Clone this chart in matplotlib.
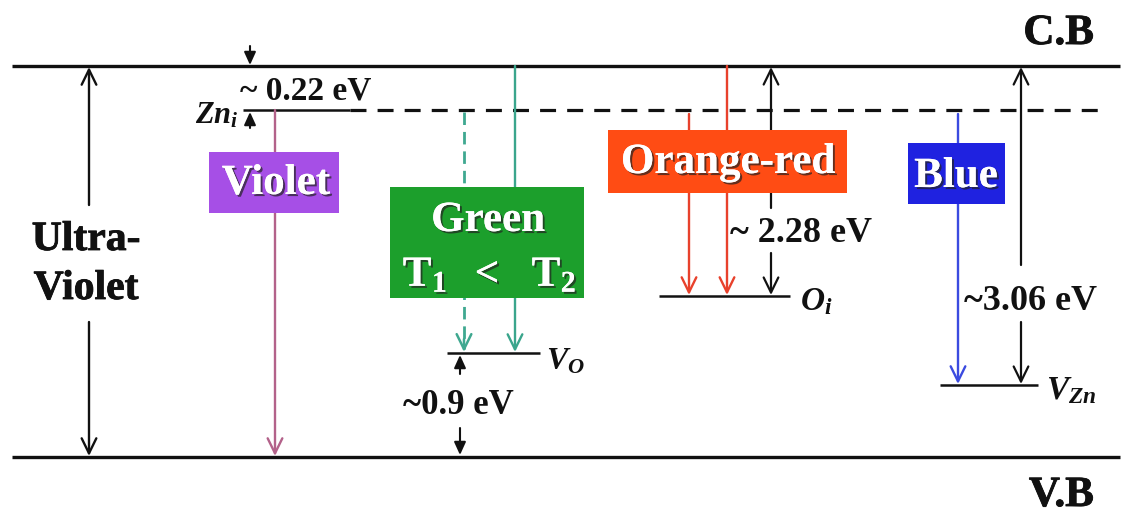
import matplotlib
matplotlib.use("Agg")
import matplotlib.pyplot as plt
import matplotlib.patheffects as pe
from matplotlib.patches import Rectangle

plt.rcParams['font.family'] = ['Liberation Serif', 'DejaVu Serif']
plt.rcParams['font.weight'] = 'bold'
plt.rcParams['mathtext.fontset'] = 'custom'
plt.rcParams['mathtext.rm'] = 'Liberation Serif:weight=bold'
plt.rcParams['mathtext.bf'] = 'Liberation Serif:weight=bold'
plt.rcParams['mathtext.it'] = 'Liberation Serif:style=italic:weight=bold'
plt.rcParams['mathtext.sf'] = 'Liberation Serif:style=italic'
plt.rcParams['lines.scale_dashes'] = False

# ---------------- diagram data (diagram units: x to the right, y downward) ----------------
band_x = [12, 1120]
band_y = {'C.B': 66, 'V.B': 457}

# defect levels: name, x start, x end, y
level_names = ['Zn_i', 'V_O', 'O_i', 'V_Zn']
level_x0 = [243, 447, 659, 940]
level_x1 = [350, 540, 790, 1038]
level_y = [110, 353, 296, 385]
level_labels = [r'$Zn_i$', r'$\mathsf{V}_\mathsf{O}$', r'$\mathsf{O}_\mathsf{i}$', r'$\mathsf{V}_\mathsf{Zn}$']
zn_dash_end = 1106

# emission boxes
box_names = ['Violet', 'Green', 'Orange-red', 'Blue']
box_x0 = [209, 390, 608, 908]
box_x1 = [339, 584, 847, 1005]
box_y0 = [152, 187, 130, 143]
box_y1 = [213, 298, 193, 204]
box_colors = ['#A64FE6', '#1C9F2C', '#FF4C14', '#1F22E0']
green_sub = ['T$_1$', '<', 'T$_2$']

# coloured transitions: x, from y, to y, colour, dashed
trans_x = [275, 464, 515, 689, 727, 958]
trans_from = [110, 112, 66, 114, 66, 114]
trans_to = [457, 353, 353, 296, 296, 385]
trans_colors = ['#B3628A', '#3FA890', '#3AA58C', '#E8412C', '#E8412C', '#3B4BE0']
trans_dashed = [False, True, False, False, False, False]

# black energy arrows at x
uv_x = 89
gap228_x = 771
gap306_x = 1021
# small energy-gap markers
zn_gap_x = 250
vo_gap_x = 460

energy_labels = ['~ 0.22 eV', '~0.9 eV', '~ 2.28 eV', '~3.06 eV']

# ---------------- drawing ----------------
fig = plt.figure(figsize=(11.23, 5.13), dpi=100)
ax = fig.add_axes([0, 0, 1, 1])
ax.set_xlim(0, 1123)
ax.set_ylim(513, 0)
ax.axis('off')

INK = '#111111'
heavy = [pe.withStroke(linewidth=0.6, foreground=INK)]

# bands
for name, y in band_y.items():
    ax.plot(band_x, [y, y], color=INK, lw=2.4, solid_capstyle='butt', zorder=2)
ax.text(1094, 44, 'C.B', fontsize=31, ha='right', va='baseline', color=INK, path_effects=heavy)
ax.text(1094, 506, 'V.B', fontsize=31, ha='right', va='baseline', color=INK, path_effects=heavy)

# levels
for i, n in enumerate(level_names):
    ax.plot([level_x0[i], level_x1[i]], [level_y[i], level_y[i]], color=INK,
            lw=1.8, solid_capstyle='butt', zorder=2)
ax.plot([level_x1[0], zn_dash_end], [level_y[0], level_y[0]], color=INK, lw=2.3,
        linestyle=(0, (11.5, 8)), zorder=2)

ax.text(239, 116, level_labels[0], fontsize=22, ha='right', va='center', color=INK)
ax.text(546, 362, level_labels[1], fontsize=23, ha='left', va='center', color=INK)
ax.text(800, 302, level_labels[2], fontsize=24, ha='left', va='center', color=INK)
ax.text(1046, 391, level_labels[3], fontsize=24, ha='left', va='center', color=INK)


def arrow(x, y_tail, y_tip, color=INK, lw=1.6, ls='-', ms=24, style='->,head_length=0.45,head_width=0.22'):
    ax.annotate('', xy=(x, y_tip), xytext=(x, y_tail),
                arrowprops=dict(arrowstyle=style,
                                color=color, lw=lw, linestyle=ls,
                                shrinkA=0, shrinkB=0, mutation_scale=ms),
                zorder=3)


small = '-|>,head_length=0.55,head_width=0.25'

# coloured transitions
for i in range(len(trans_x)):
    if trans_dashed[i]:
        ax.plot([trans_x[i]] * 2, [trans_from[i], trans_to[i] - 4], color=trans_colors[i],
                lw=2.0, linestyle=(0, (9, 5)), zorder=3)
        arrow(trans_x[i], trans_to[i] - 14, trans_to[i] - 1, color=trans_colors[i], lw=1.8)
    else:
        arrow(trans_x[i], trans_from[i], trans_to[i] - 1, color=trans_colors[i], lw=1.7)

# boxes
shadow = [pe.withSimplePatchShadow(offset=(1.5, -1.5), shadow_rgbFace='#222222', alpha=0.7),
          pe.Normal()]
for i, n in enumerate(box_names):
    ax.add_patch(Rectangle((box_x0[i], box_y0[i]), box_x1[i] - box_x0[i], box_y1[i] - box_y0[i],
                           facecolor=box_colors[i], edgecolor='none', zorder=5))
BOXFS = 31
ax.text(276, 184, box_names[0], fontsize=BOXFS, ha='center', va='center', color='white',
        path_effects=shadow, zorder=6)
ax.text(488, 221, box_names[1], fontsize=BOXFS, ha='center', va='center', color='white',
        path_effects=shadow, zorder=6)
for xc, s in zip([425, 487, 554], green_sub):
    ax.text(xc, 276, s, fontsize=BOXFS, ha='center', va='center', color='white',
            path_effects=shadow, zorder=6)
ax.text(728, 163, box_names[2], fontsize=BOXFS, ha='center', va='center', color='white',
        path_effects=shadow, zorder=6)
ax.text(956, 177, box_names[3], fontsize=BOXFS, ha='center', va='center', color='white',
        path_effects=shadow, zorder=6)

# Ultra-Violet double arrow
arrow(uv_x, 205, band_y['C.B'] + 1, lw=1.7)
arrow(uv_x, 322, band_y['V.B'] - 1, lw=1.7)
ax.text(86, 240, 'Ultra-', fontsize=30, ha='center', va='center', color=INK, path_effects=heavy)
ax.text(86, 289, 'Violet', fontsize=30, ha='center', va='center', color=INK, path_effects=heavy)

# 2.28 eV
arrow(gap228_x, 208, band_y['C.B'] + 1, lw=1.6)
arrow(gap228_x, 253, level_y[2] - 1, lw=1.6)
ax.text(730, 233, energy_labels[2], fontsize=26, ha='left', va='center', color=INK)

# 3.06 eV
arrow(gap306_x, 265, band_y['C.B'] + 1, lw=1.6)
arrow(gap306_x, 322, level_y[3] - 1, lw=1.6)
ax.text(964, 302, energy_labels[3], fontsize=26, ha='left', va='center', color=INK)

# 0.22 eV
arrow(zn_gap_x, 46, band_y['C.B'] - 1, lw=1.5, ms=14, style=small)
arrow(zn_gap_x, 128, level_y[0] + 2, lw=1.5, ms=14, style=small)
ax.text(240, 91, energy_labels[0], fontsize=24, ha='left', va='center', color=INK)

# 0.9 eV
arrow(vo_gap_x, 374, level_y[1] + 2, lw=1.5, ms=14, style=small)
arrow(vo_gap_x, 428, band_y['V.B'] - 2, lw=1.5, ms=14, style=small)
ax.text(458, 405, energy_labels[1], fontsize=25, ha='center', va='center', color=INK)

fig.savefig('out.png', dpi=100, facecolor='white')
